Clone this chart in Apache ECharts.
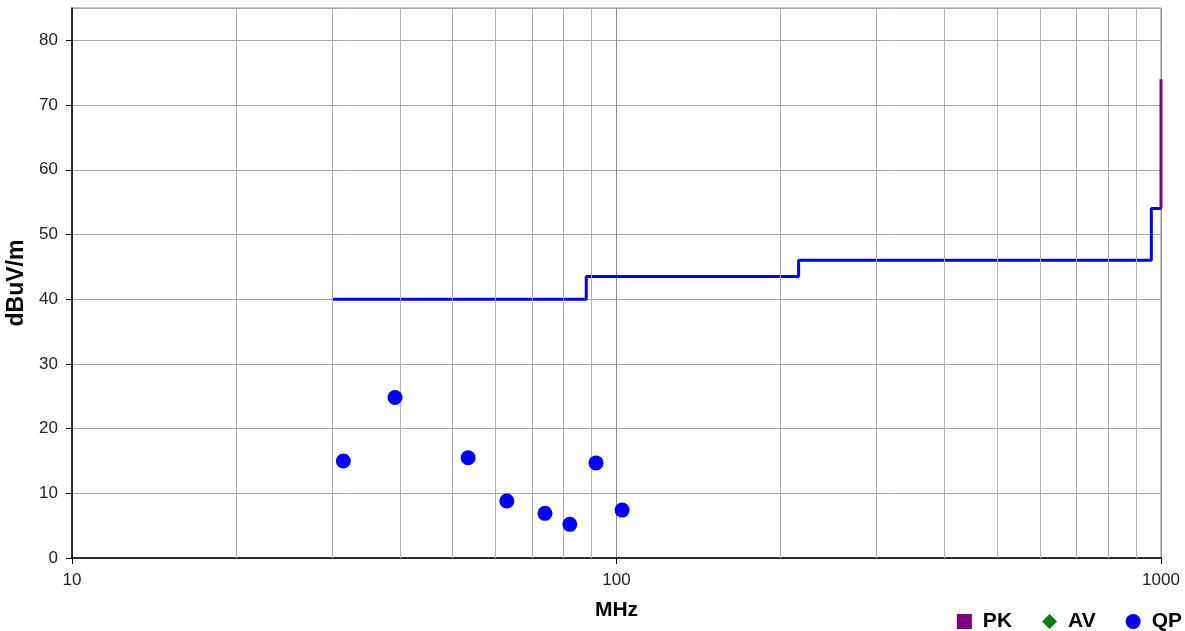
<!DOCTYPE html>
<html>
<head>
<meta charset="utf-8">
<script src="https://cdn.jsdelivr.net/npm/echarts@6/dist/echarts.min.js"></script>
<style>
  html, body { margin: 0; padding: 0; background: #fff; }
  #chart { width: 1185px; height: 631px; }
</style>
</head>
<body>
<div id="chart"></div>
<script>
// Radiated emission limit (dBuV/m), stepped
const limitFreq = [30, 88, 88, 216, 216, 960, 960, 1000];
const limitLevel = [40, 40, 43.5, 43.5, 46, 46, 54, 54];

// Peak limit segment at 1 GHz
const pkFreq = [1000, 1000];
const pkLevel = [54, 74];

// Quasi-peak measurements
const qpFreq = [31.5, 39.2, 53.4, 62.9, 73.9, 82.1, 91.7, 102.4];
const qpLevel = [15.0, 24.8, 15.5, 8.8, 6.9, 5.2, 14.7, 7.4];

// Average measurements (none)
const avFreq = [];
const avLevel = [];

// Minor grid frequencies on the log axis
const minorGridFreq = [20, 30, 40, 50, 60, 70, 80, 90, 200, 300, 400, 500, 600, 700, 800, 900];

const yTicks = [0, 10, 20, 30, 40, 50, 60, 70, 80];

const pair = (xs, ys) => xs.map((x, i) => [x, ys[i]]);

const FONT = 'Liberation Sans, Arial, sans-serif';
const chart = echarts.init(document.getElementById('chart'));

chart.setOption({
  animation: false,
  backgroundColor: '#fff',
  grid: {
    left: 72, right: 24, top: 8, bottom: 73,
    outerBoundsMode: 'none',
    containLabel: false,
    show: true, borderColor: '#8c8c8c', borderWidth: 1
  },
  legend: {
    right: 3, top: 611, padding: 0,
    itemWidth: 15, itemHeight: 15, itemGap: 30,
    textStyle: {
      fontFamily: FONT, fontSize: 21, fontWeight: 'bold', color: '#000',
      padding: [0, 0, 0, 6]
    },
    data: [
      { name: 'PK', icon: 'rect' },
      { name: 'AV', icon: 'diamond' },
      { name: 'QP', icon: 'circle' }
    ]
  },
  xAxis: {
    type: 'log', logBase: 10, min: 10, max: 1000,
    name: 'MHz', nameLocation: 'middle', nameGap: 42,
    nameTextStyle: { fontFamily: FONT, fontSize: 21, fontWeight: 'bold', color: '#000' },
    axisLine: { show: true, lineStyle: { color: '#000', width: 1.5 } },
    axisTick: { show: true, length: 6, lineStyle: { color: '#000' } },
    axisLabel: {
      fontFamily: FONT, fontSize: 17, color: '#222', margin: 14,
      formatter: v => String(v)
    },
    splitLine: { show: true, lineStyle: { color: '#8c8c8c', width: 1 } },
    minorTick: { show: false },
    minorSplitLine: { show: false }
  },
  yAxis: {
    type: 'value', min: 0, max: 85, interval: 10,
    name: 'dBuV/m', nameLocation: 'middle', nameGap: 43, nameRotate: 90,
    nameTextStyle: { fontFamily: FONT, fontSize: 23, fontWeight: 'bold', color: '#000' },
    axisLine: { show: true, lineStyle: { color: '#000', width: 1.5 } },
    axisTick: { show: true, length: 6, lineStyle: { color: '#000' } },
    axisLabel: {
      fontFamily: FONT, fontSize: 17, color: '#222', margin: 14, showMaxLabel: false,
      formatter: v => (yTicks.indexOf(v) >= 0 ? String(v) : '')
    },
    splitLine: { show: true, lineStyle: { color: '#a6a6a6', width: 1 } }
  },
  series: [
    {
      name: 'grid',
      type: 'line',
      data: [],
      silent: true,
      markLine: {
        silent: true, symbol: 'none', animation: false,
        label: { show: false },
        lineStyle: { color: '#b4b4b4', type: 'solid', width: 1 },
        data: minorGridFreq.map(f => ({ xAxis: f }))
      }
    },
    {
      name: 'Limit',
      type: 'line',
      data: pair(limitFreq, limitLevel),
      showSymbol: false, symbol: 'none',
      lineStyle: { color: '#0000ff', width: 3 },
      itemStyle: { color: '#0000ff' },
      z: 3
    },
    {
      name: 'PK',
      type: 'line',
      data: pair(pkFreq, pkLevel),
      showSymbol: false, symbol: 'none',
      lineStyle: { color: '#800080', width: 3 },
      itemStyle: { color: '#800080' },
      z: 4
    },
    {
      name: 'AV',
      type: 'scatter',
      data: pair(avFreq, avLevel),
      symbol: 'diamond', symbolSize: 12,
      itemStyle: { color: '#008000', opacity: 1 }
    },
    {
      name: 'QP',
      type: 'scatter',
      data: pair(qpFreq, qpLevel),
      symbol: 'circle', symbolSize: 15,
      itemStyle: { color: '#0000ff', opacity: 1 },
      z: 5
    }
  ]
});
</script>
</body>
</html>
